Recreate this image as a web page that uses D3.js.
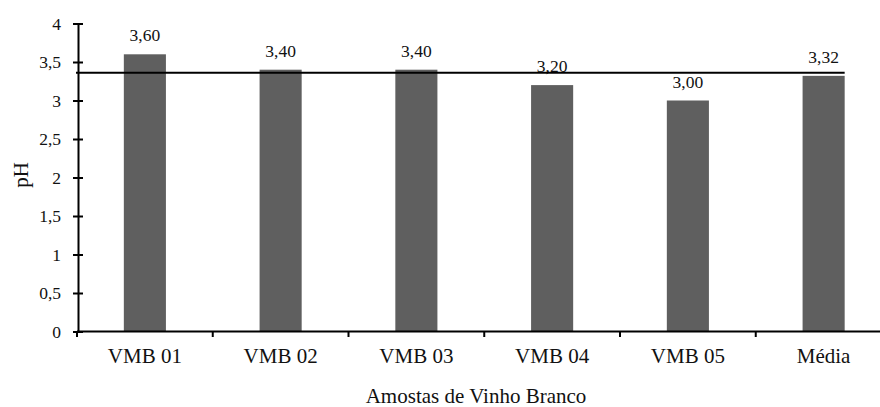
<!DOCTYPE html>
<html>
<head>
<meta charset="utf-8">
<script src="https://cdn.jsdelivr.net/npm/d3@7"></script>
<style>
  html, body { margin: 0; padding: 0; background: #fff; }
  svg { display: block; }
  svg text { font-family: "Liberation Serif", "Times New Roman", Times, serif; }
</style>
</head>
<body>
<svg id="chart" width="880" height="407"></svg>
<script>
// pH of white wine samples
const categories = ["VMB 01", "VMB 02", "VMB 03", "VMB 04", "VMB 05", "Média"];
const phValues = [3.60, 3.40, 3.40, 3.20, 3.00, 3.32];
const valueLabels = ["3,60", "3,40", "3,40", "3,20", "3,00", "3,32"];
const yTicks = [0, 0.5, 1, 1.5, 2, 2.5, 3, 3.5, 4];
const yTickLabels = ["0", "0,5", "1", "1,5", "2", "2,5", "3", "3,5", "4"];
const referenceLine = 3.36;
const xTitle = "Amostas de Vinho Branco";
const yTitle = "pH";

const serif = "'Liberation Serif', 'Times New Roman', Times, serif";
const svg = d3.select("#chart");

const x = d3.scaleBand()
  .domain(categories)
  .range([77, 891.5])
  .paddingInner(0.69)
  .paddingOuter(0.345);

const y = d3.scaleLinear().domain([0, 4]).range([331.5, 23.5]);

// bars
svg.append("g").selectAll("rect")
  .data(categories)
  .join("rect")
  .attr("x", d => x(d))
  .attr("width", x.bandwidth())
  .attr("y", (d, i) => y(phValues[i]))
  .attr("height", (d, i) => y(0) - y(phValues[i]))
  .attr("fill", "#5f5f5f");

// value labels
svg.append("g").selectAll("text")
  .data(categories)
  .join("text")
  .attr("x", d => x(d) + x.bandwidth() / 2)
  .attr("y", (d, i) => y(phValues[i]) - 13)
  .attr("text-anchor", "middle")
  .attr("font-family", serif)
  .attr("font-size", 17.5)
  .attr("fill", "#111")
  .text((d, i) => valueLabels[i]);

// y axis with ticks crossing the line
const yAxis = d3.axisLeft(y)
  .tickValues(yTicks)
  .tickFormat((d, i) => yTickLabels[i])
  .tickSizeInner(5)
  .tickSizeOuter(0)
  .tickPadding(12);
const gy = svg.append("g").attr("transform", "translate(78,0)").call(yAxis)
  .attr("font-family", serif);
gy.select(".domain").attr("stroke", "#000").attr("stroke-width", 2);
gy.selectAll(".tick line").attr("x1", -5).attr("x2", 5).attr("stroke", "#000").attr("stroke-width", 2);
gy.selectAll(".tick text").attr("font-size", 17.5).attr("fill", "#111")
  .attr("font-family", serif);

// x axis: ticks sit on band boundaries
const boundaries = categories.map(c => x(c) - x.step() * x.paddingInner() / 2);
const gx = svg.append("g").attr("transform", `translate(0,${y(0)})`);
gx.append("line")
  .attr("x1", x.range()[0]).attr("x2", x.range()[1])
  .attr("stroke", "#000").attr("stroke-width", 2);
gx.selectAll("line.tk")
  .data(boundaries)
  .join("line")
  .attr("class", "tk")
  .attr("x1", d => d).attr("x2", d => d)
  .attr("y1", 0).attr("y2", 5.5)
  .attr("stroke", "#000").attr("stroke-width", 2);
gx.selectAll("text")
  .data(categories)
  .join("text")
  .attr("x", d => x(d) + x.bandwidth() / 2)
  .attr("y", 31.5)
  .attr("text-anchor", "middle")
  .attr("font-family", serif)
  .attr("font-size", 21)
  .attr("fill", "#111")
  .text(d => d);

// reference line across the bars
svg.append("line")
  .attr("x1", 76)
  .attr("x2", x(categories[categories.length - 1]) + x.bandwidth())
  .attr("y1", y(referenceLine)).attr("y2", y(referenceLine))
  .attr("stroke", "#000").attr("stroke-width", 2);

// axis titles
svg.append("text")
  .attr("x", 476).attr("y", 403)
  .attr("text-anchor", "middle")
  .attr("font-family", serif)
  .attr("font-size", 21)
  .attr("fill", "#111")
  .text(xTitle);

svg.append("text")
  .attr("transform", "translate(28,175) rotate(-90)")
  .attr("text-anchor", "middle")
  .attr("font-family", serif)
  .attr("font-size", 21)
  .attr("fill", "#111")
  .text(yTitle);
</script>
</body>
</html>
